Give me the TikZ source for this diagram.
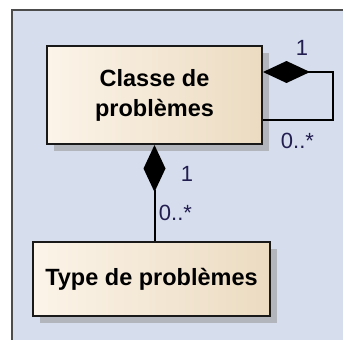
\documentclass[tikz,border=0pt]{standalone}
\usepackage{fontspec}
\setmainfont{Liberation Sans}
\usetikzlibrary{arrows.meta,shadows,positioning}
\definecolor{bgblue}{RGB}{214,222,238}
\definecolor{boxleft}{RGB}{252,244,233}
\definecolor{boxright}{RGB}{235,219,193}
\definecolor{shadowgray}{RGB}{178,181,188}
\definecolor{multcol}{RGB}{35,30,80}

\begin{document}
\begin{tikzpicture}[x=1pt,y=-1pt,% one unit is one pixel of the reference, y downwards
      every node/.style={
        align=center      % so that "\\" breaks the line
      },
      classbox/.style={rectangle,draw=black!90,line width=2pt,
        left color=boxleft,right color=boxright,
        font=\fontsize{23.5}{30}\selectfont\bfseries,
        drop shadow={shadow xshift=7pt,shadow yshift=-7pt,fill=shadowgray,opacity=1}},
      mult/.style={font=\fontsize{22}{24}\selectfont,text=multcol,inner sep=0pt},
      comp/.style={draw,line width=2pt,{Diamond[length=47pt,width=22pt]}-}
    ]
    % canvas
    \useasboundingbox (0,0) rectangle (343,340);
    \fill[white] (0,0) rectangle (343,340);
    \fill[bgblue] (12,10) rectangle (343,340);
    \draw[black!70,line width=1.2pt] (12,340) -- (12,10) -- (343,10);

    % classes
    \node[classbox,minimum width=215pt,minimum height=98pt](Classe) at (154.5,95){Classe de\\probl\`emes};
    \node[classbox,minimum width=237pt,minimum height=74pt](Type) at (151.5,279){Type de probl\`emes};

    % compositions
    \path[comp] ([yshift=23pt]Classe.east) -- ++(70,0) |- ([yshift=-25pt]Classe.east);
    \path[comp] (Classe.south) -- (Classe.south |- Type.north);

    % multiplicities
    \node[mult](oneR) at (302,48){1};
    \node[mult](manyR) at (297.5,141){0..*};
    \node[mult](oneD) at (187,174){1};
    \node[mult](manyD) at (175.5,213){0..*};
  \end{tikzpicture}
\end{document}
